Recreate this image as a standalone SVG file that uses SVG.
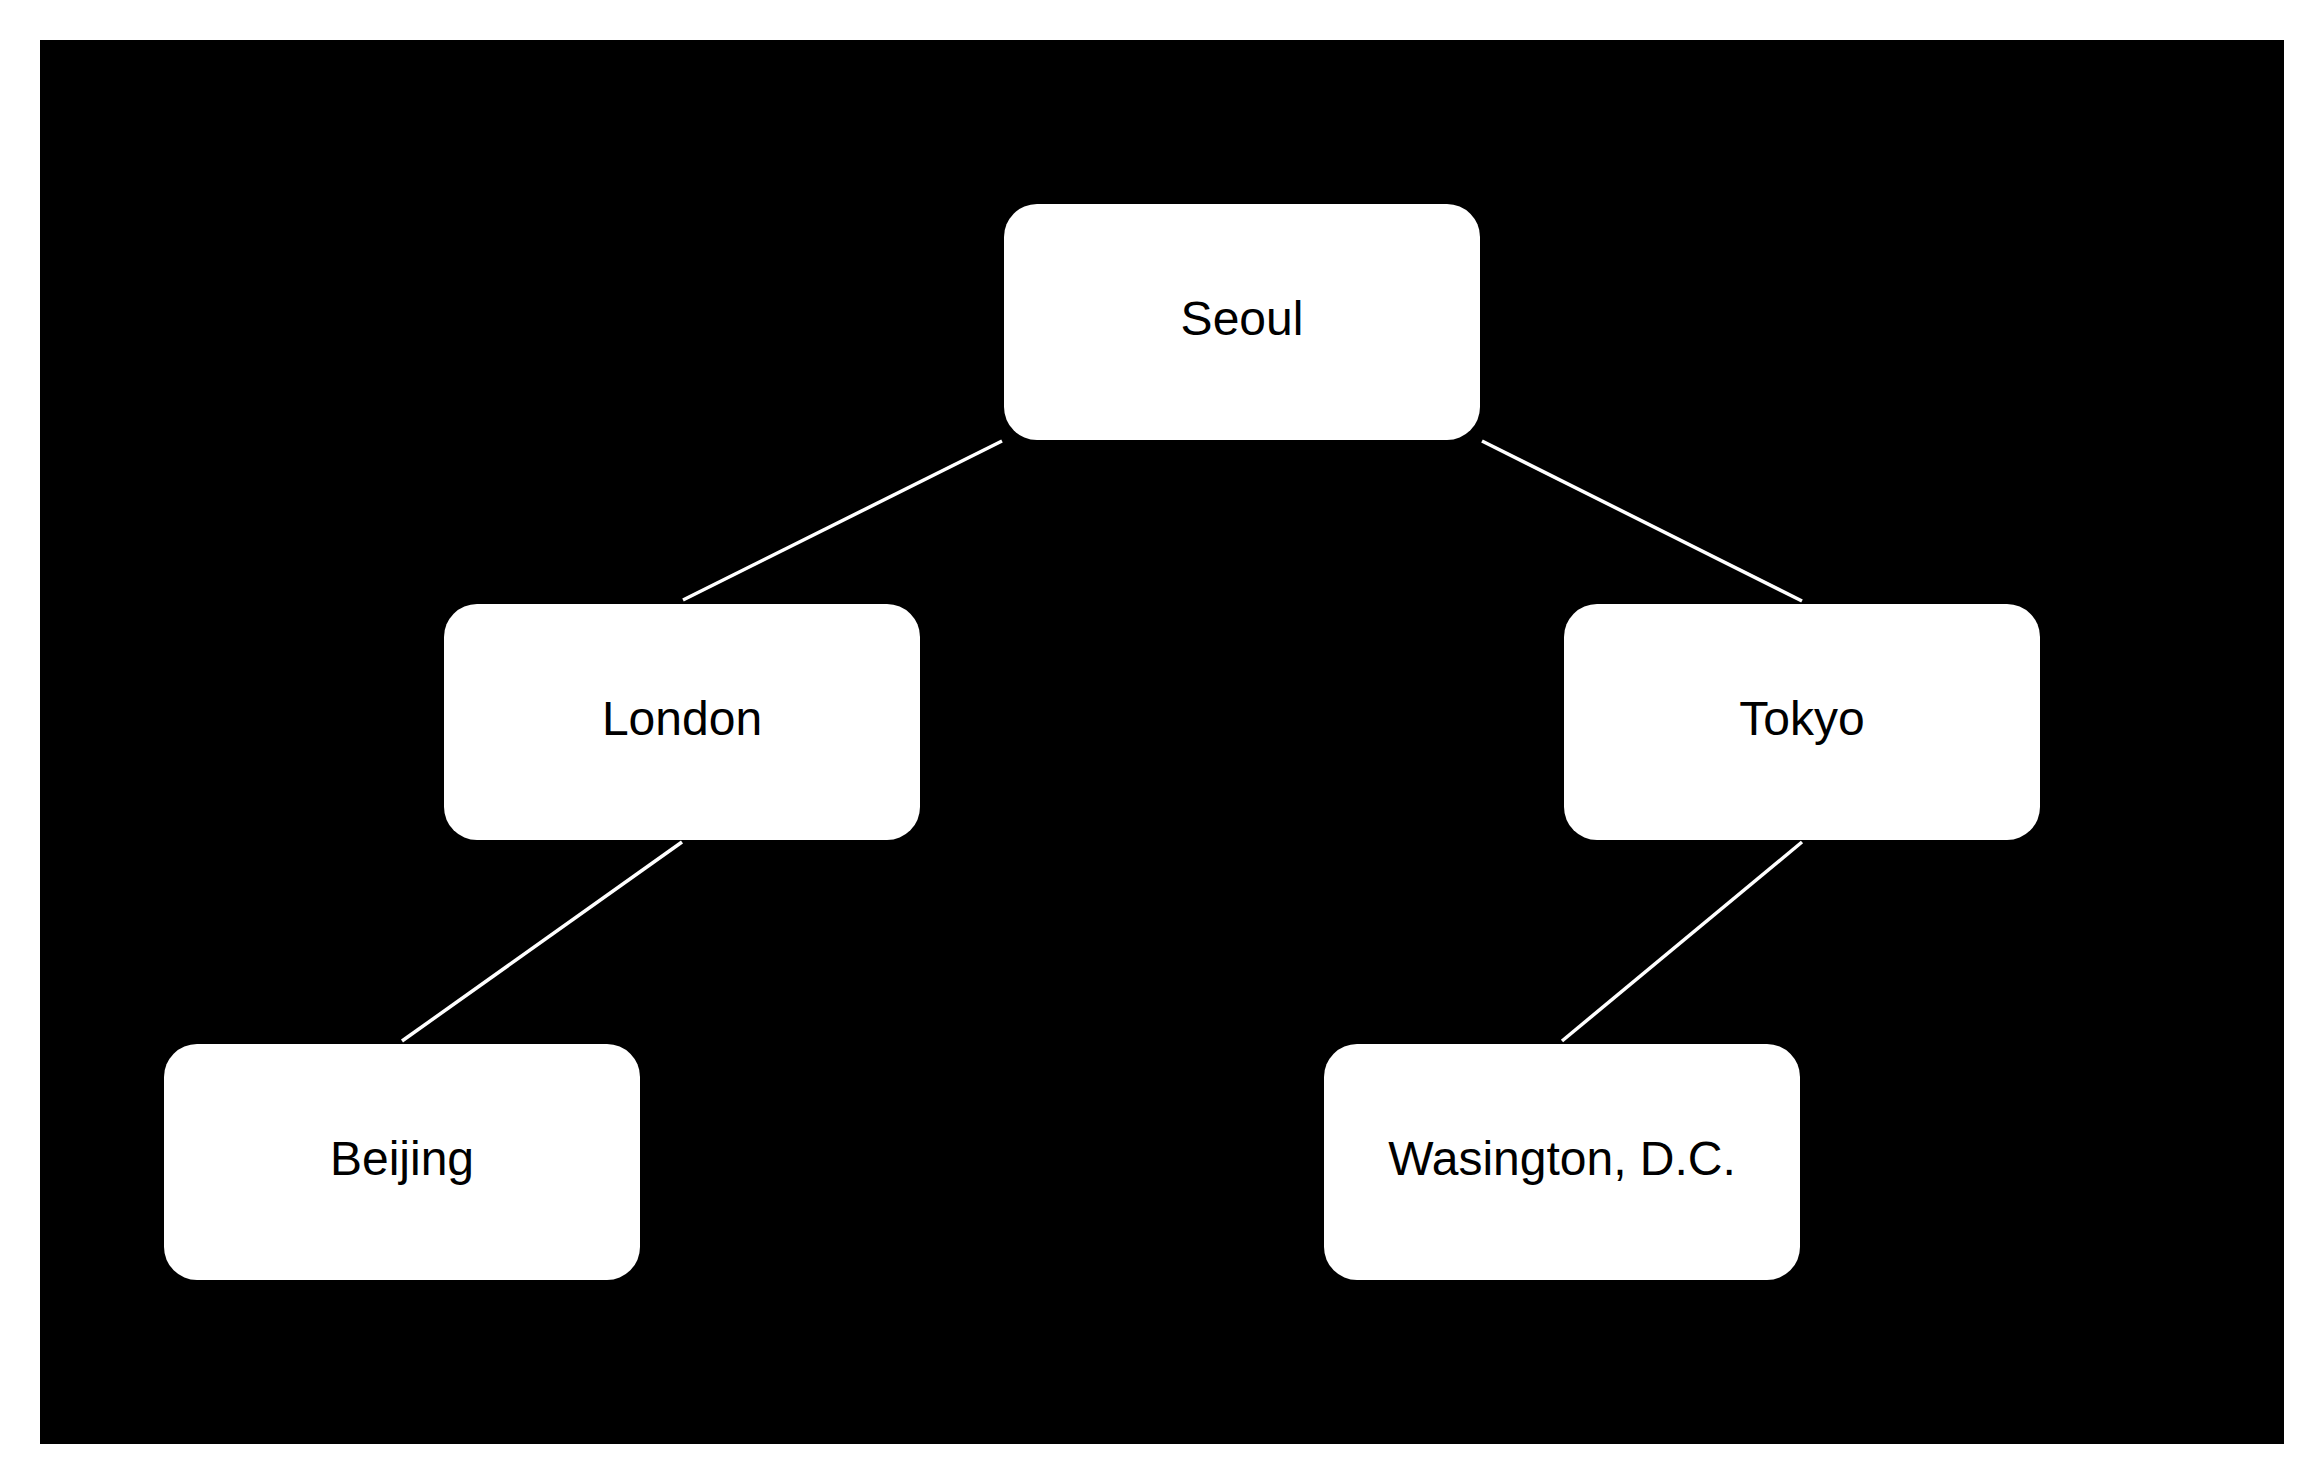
<svg xmlns="http://www.w3.org/2000/svg" width="2324" height="1484" viewBox="0 0 2324 1484">
<style>
.node rect{fill:#ffffff;stroke:none}
.node text{font-family:"Liberation Sans",Arial,sans-serif;font-size:48px;fill:#000000;text-anchor:middle}
.edge{stroke:#ffffff;stroke-width:3.5;fill:none}
</style>
<rect x="0" y="0" width="2324" height="1484" fill="#ffffff"/>
<rect x="40" y="40" width="2244" height="1404" fill="#000000"/>
<g id="connectors">
<line class="edge" x1="1002" y1="441" x2="683" y2="600"/>
<line class="edge" x1="1482" y1="441" x2="1802" y2="601"/>
<line class="edge" x1="682" y1="842" x2="402" y2="1041"/>
<line class="edge" x1="1802" y1="842" x2="1562" y2="1041"/>
</g>
<g id="seoul" class="node"><rect x="1004" y="204" width="476" height="236" rx="33"/><text x="1242" y="335">Seoul</text></g>
<g id="london" class="node"><rect x="444" y="604" width="476" height="236" rx="33"/><text x="682" y="735">London</text></g>
<g id="tokyo" class="node"><rect x="1564" y="604" width="476" height="236" rx="33"/><text x="1802" y="735">Tokyo</text></g>
<g id="beijing" class="node"><rect x="164" y="1044" width="476" height="236" rx="33"/><text x="402" y="1175">Beijing</text></g>
<g id="washington" class="node"><rect x="1324" y="1044" width="476" height="236" rx="33"/><text x="1562" y="1175">Wasington, D.C.</text></g>
</svg>
